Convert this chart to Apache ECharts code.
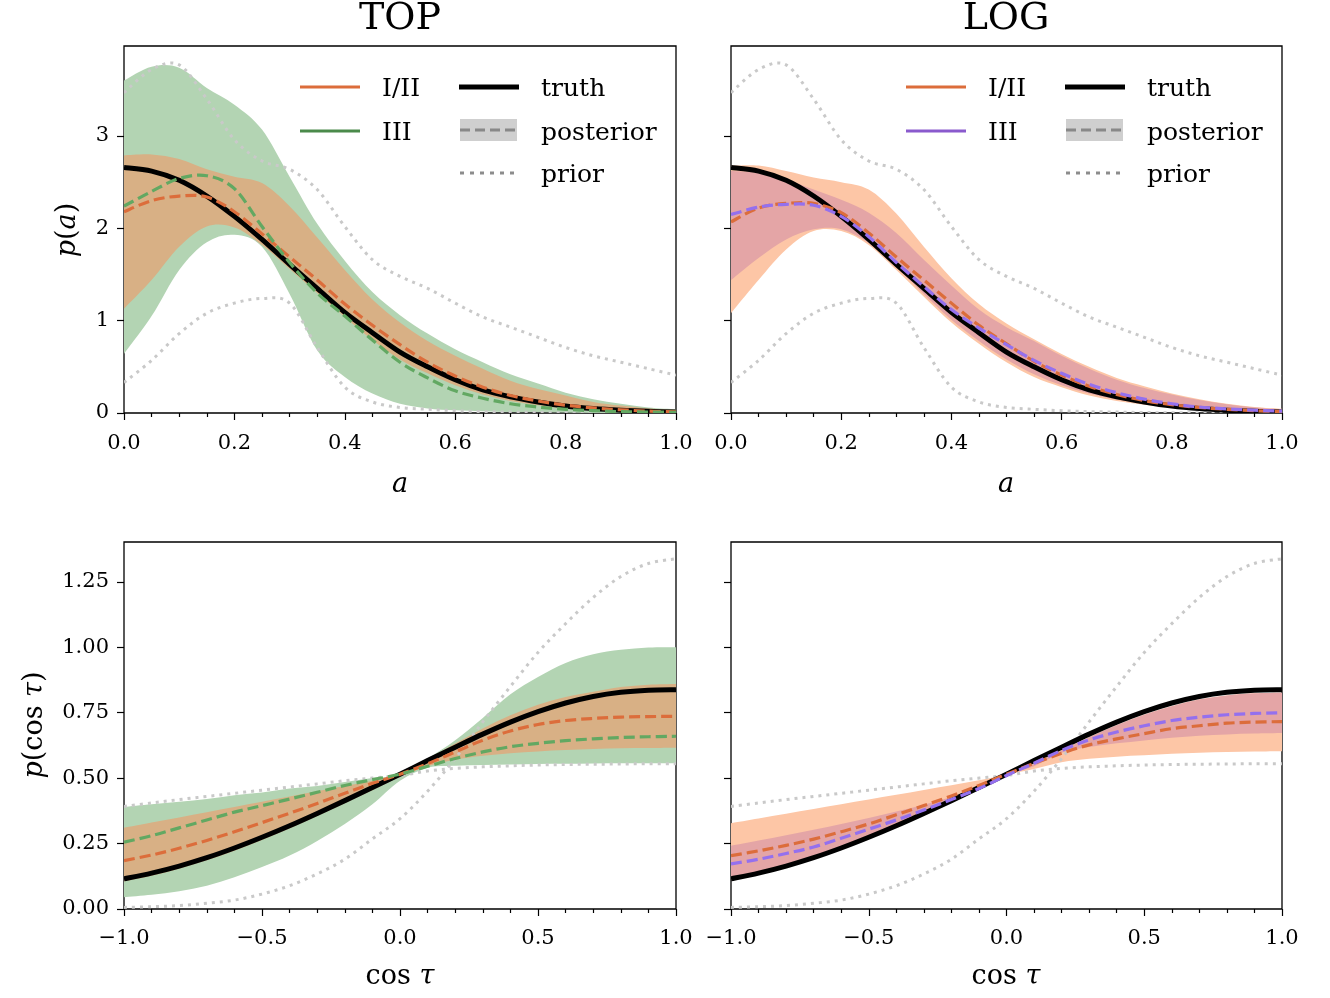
<!DOCTYPE html>
<html>
    <head>
        <meta charset="utf-8">
        <script src="https://cdn.jsdelivr.net/npm/echarts@6/dist/echarts.min.js"></script>
        <style>
            html, body { margin: 0; padding: 0; background: #fff; }
            #main { width: 1330px; height: 998px; }
        </style>
    </head>
    <body>
        <div id="main"></div>
        <script>
            // grid of spin magnitudes a (top row) and cos tau (bottom row)
            var xa = [0, 0.05, 0.1, 0.15, 0.2, 0.25, 0.3, 0.35, 0.4, 0.45, 0.5,
                      0.55, 0.6, 0.65, 0.7, 0.75, 0.8, 0.85, 0.9, 0.95, 1];
            var xc = [-1, -0.9, -0.8, -0.7, -0.6, -0.5, -0.4, -0.3, -0.2, -0.1, 0,
                      0.1, 0.2, 0.3, 0.4, 0.5, 0.6, 0.7, 0.8, 0.9, 1];

            // p(a): truth and prior band (shared by TOP and LOG)
            var truthA = [2.66, 2.62, 2.52, 2.35, 2.13, 1.88, 1.61, 1.35, 1.09, 0.87, 0.66,
                          0.50, 0.36, 0.25, 0.175, 0.12, 0.076, 0.048, 0.03, 0.018, 0.01];
            var priorAHi = [3.47, 3.72, 3.77, 3.40, 2.96, 2.73, 2.64, 2.42, 2.02, 1.66, 1.48,
                            1.35, 1.19, 1.04, 0.93, 0.82, 0.71, 0.62, 0.55, 0.48, 0.41];
            var priorALo = [0.33, 0.57, 0.86, 1.08, 1.19, 1.24, 1.19, 0.71, 0.28, 0.12, 0.06,
                            0.04, 0.025, 0.015, 0.01, 0.005, 0.003, 0.002, 0.001, 0.001, 0.001];

            // TOP, p(a)
            var topA12Med = [2.18, 2.30, 2.35, 2.34, 2.18, 1.94, 1.69, 1.44, 1.18, 0.95, 0.74,
                             0.55, 0.40, 0.28, 0.19, 0.13, 0.085, 0.055, 0.035, 0.02, 0.012];
            var topA12Hi = [2.79, 2.80, 2.75, 2.64, 2.56, 2.49, 2.24, 1.90, 1.55, 1.23, 0.98,
                            0.78, 0.62, 0.48, 0.35, 0.26, 0.19, 0.12, 0.08, 0.05, 0.036];
            var topA12Lo = [1.13, 1.44, 1.80, 2.02, 2.01, 1.82, 1.56, 1.30, 1.04, 0.79, 0.58,
                            0.43, 0.30, 0.20, 0.13, 0.085, 0.05, 0.03, 0.02, 0.01, 0.005];
            var topA3Med = [2.24, 2.40, 2.54, 2.57, 2.43, 2.02, 1.63, 1.30, 1.05, 0.79, 0.55,
                            0.38, 0.24, 0.16, 0.10, 0.065, 0.04, 0.025, 0.015, 0.01, 0.008];
            var topA3Hi = [3.60, 3.75, 3.74, 3.52, 3.34, 3.07, 2.56, 2.05, 1.65, 1.31, 1.06,
                           0.86, 0.69, 0.55, 0.42, 0.32, 0.22, 0.15, 0.10, 0.06, 0.04];
            var topA3Lo = [0.64, 1.05, 1.55, 1.85, 1.93, 1.80, 1.29, 0.68, 0.39, 0.21, 0.10,
                           0.05, 0.03, 0.02, 0.01, 0.01, 0.005, 0, 0, 0, 0];

            // LOG, p(a)
            var logA12Med = [2.07, 2.22, 2.27, 2.27, 2.17, 1.95, 1.69, 1.44, 1.19, 0.95, 0.75,
                             0.56, 0.41, 0.29, 0.20, 0.135, 0.09, 0.06, 0.04, 0.025, 0.015];
            var logA12Hi = [2.68, 2.68, 2.62, 2.55, 2.50, 2.42, 2.16, 1.80, 1.46, 1.18, 0.97,
                            0.80, 0.64, 0.50, 0.38, 0.29, 0.21, 0.15, 0.10, 0.065, 0.045];
            var logA12Lo = [1.08, 1.44, 1.77, 1.97, 1.97, 1.82, 1.55, 1.26, 0.98, 0.75, 0.55,
                            0.39, 0.28, 0.19, 0.13, 0.09, 0.06, 0.04, 0.025, 0.015, 0.01];
            var logA3Med = [2.15, 2.23, 2.26, 2.25, 2.13, 1.91, 1.63, 1.37, 1.12, 0.92, 0.74,
                            0.57, 0.43, 0.31, 0.22, 0.15, 0.10, 0.065, 0.045, 0.03, 0.02];
            var logA3Hi = [2.62, 2.60, 2.53, 2.42, 2.31, 2.17, 1.95, 1.66, 1.38, 1.12, 0.93,
                           0.78, 0.62, 0.48, 0.36, 0.27, 0.20, 0.14, 0.095, 0.06, 0.04];
            var logA3Lo = [1.44, 1.68, 1.88, 1.99, 1.99, 1.84, 1.58, 1.29, 1.01, 0.78, 0.58,
                           0.42, 0.30, 0.21, 0.145, 0.10, 0.07, 0.045, 0.03, 0.02, 0.012];

            // p(cos tau): truth and priors (shared)
            var truthC = [0.115, 0.137, 0.164, 0.196, 0.233, 0.274, 0.318, 0.365, 0.414, 0.464, 0.515,
                          0.567, 0.618, 0.668, 0.714, 0.754, 0.787, 0.812, 0.828, 0.836, 0.838];
            var priorCFlat = [0.392, 0.405, 0.418, 0.43, 0.442, 0.454, 0.466, 0.478, 0.49, 0.50, 0.51,
                              0.527, 0.537, 0.543, 0.547, 0.55, 0.552, 0.553, 0.554, 0.555, 0.555];
            var priorCSteep = [0.006, 0.009, 0.013, 0.022, 0.034, 0.057, 0.089, 0.134, 0.19, 0.268, 0.345,
                               0.45, 0.575, 0.715, 0.85, 0.98, 1.09, 1.19, 1.27, 1.32, 1.338];

            // TOP, p(cos tau)
            var topC12Med = [0.185, 0.206, 0.232, 0.262, 0.295, 0.33, 0.366, 0.403, 0.442, 0.48, 0.515,
                             0.555, 0.60, 0.645, 0.68, 0.705, 0.72, 0.728, 0.733, 0.735, 0.736];
            var topC12Hi = [0.31, 0.33, 0.35, 0.37, 0.39, 0.41, 0.43, 0.45, 0.47, 0.49, 0.515,
                            0.572, 0.632, 0.69, 0.74, 0.78, 0.81, 0.83, 0.848, 0.857, 0.86];
            var topC12Lo = [0.105, 0.127, 0.154, 0.186, 0.223, 0.264, 0.308, 0.355, 0.404, 0.454, 0.505,
                            0.545, 0.57, 0.585, 0.595, 0.602, 0.607, 0.611, 0.614, 0.615, 0.616];
            var topC3Med = [0.255, 0.28, 0.31, 0.34, 0.37, 0.395, 0.42, 0.446, 0.472, 0.494, 0.515,
                            0.545, 0.575, 0.60, 0.62, 0.633, 0.643, 0.65, 0.655, 0.658, 0.66];
            var topC3Hi = [0.39, 0.40, 0.41, 0.42, 0.435, 0.445, 0.46, 0.47, 0.485, 0.50, 0.515,
                           0.575, 0.645, 0.73, 0.82, 0.886, 0.94, 0.973, 0.99, 0.999, 1.0];
            var topC3Lo = [0.045, 0.054, 0.068, 0.089, 0.121, 0.16, 0.204, 0.26, 0.325, 0.40, 0.49,
                           0.54, 0.547, 0.55, 0.552, 0.554, 0.555, 0.556, 0.557, 0.557, 0.557];

            // LOG, p(cos tau)
            var logC12Med = [0.204, 0.222, 0.243, 0.267, 0.295, 0.325, 0.36, 0.395, 0.432, 0.472, 0.515,
                             0.556, 0.595, 0.627, 0.65, 0.67, 0.689, 0.70, 0.71, 0.714, 0.716];
            var logC12Hi = [0.328, 0.346, 0.364, 0.382, 0.40, 0.418, 0.436, 0.455, 0.473, 0.492, 0.515,
                            0.555, 0.606, 0.656, 0.702, 0.742, 0.775, 0.80, 0.816, 0.824, 0.826];
            var logC12Lo = [0.11, 0.132, 0.159, 0.191, 0.228, 0.269, 0.313, 0.36, 0.409, 0.459, 0.51,
                            0.535, 0.561, 0.574, 0.582, 0.587, 0.593, 0.597, 0.60, 0.602, 0.603];
            var logC3Med = [0.172, 0.19, 0.212, 0.237, 0.27, 0.305, 0.34, 0.378, 0.418, 0.46, 0.51,
                            0.557, 0.606, 0.646, 0.676, 0.70, 0.72, 0.733, 0.742, 0.747, 0.75];
            var logC3Hi = [0.242, 0.262, 0.282, 0.303, 0.325, 0.348, 0.372, 0.398, 0.428, 0.462, 0.512,
                           0.555, 0.606, 0.656, 0.702, 0.742, 0.775, 0.80, 0.816, 0.824, 0.826];
            var logC3Lo = [0.12, 0.142, 0.169, 0.201, 0.238, 0.279, 0.323, 0.37, 0.419, 0.469, 0.512,
                           0.545, 0.597, 0.619, 0.633, 0.644, 0.654, 0.662, 0.667, 0.67, 0.672];

            var aTicks = [0, 1, 2, 3];
            var cTicks = [0, 0.25, 0.5, 0.75, 1, 1.25];

            var ORANGE = '#dc6d3b', GREEN = '#4a8a4a', PURPLE = '#8a5acd';
            var FONT = '"DejaVu Serif", serif';

            function pts(xs, ys) {
                return xs.map(function (x, i) { return [x, ys[i]]; });
            }

            // cubic spline through pixel points (Catmull-Rom as bezier)
            function curve(p, first) {
                var d = (first ? 'M' : 'L') + p[0][0] + ',' + p[0][1];
                for (var i = 0; i < p.length - 1; i++) {
                    var p0 = p[Math.max(i - 1, 0)], p1 = p[i], p2 = p[i + 1], p3 = p[Math.min(i + 2, p.length - 1)];
                    var c1x = p1[0] + (p2[0] - p0[0]) / 6, c1y = p1[1] + (p2[1] - p0[1]) / 6;
                    var c2x = p2[0] - (p3[0] - p1[0]) / 6, c2y = p2[1] - (p3[1] - p1[1]) / 6;
                    d += 'C' + c1x + ',' + c1y + ',' + c2x + ',' + c2y + ',' + p2[0] + ',' + p2[1];
                }
                return d;
            }

            // shaded credible band between lo and hi
            function band(g, xs, lo, hi, color) {
                return {
                    type: 'custom', xAxisIndex: g, yAxisIndex: g, silent: true, clip: true,
                    data: xs.map(function (x, i) { return [x, lo[i], hi[i]]; }),
                    encode: { x: 0, y: [1, 2] },
                    renderItem: function (params, api) {
                        if (params.dataIndex !== 0) return null;
                        var up = xs.map(function (x, i) { return api.coord([x, hi[i]]); });
                        var dn = xs.map(function (x, i) { return api.coord([x, lo[i]]); }).reverse();
                        return {
                            type: 'path',
                            shape: { pathData: curve(up, true) + curve(dn, false) + 'Z' },
                            style: { fill: color, stroke: null }
                        };
                    }
                };
            }

            // smooth curve through the points, drawn as one path
            function line(g, xs, ys, color, width, dash) {
                return {
                    type: 'custom', xAxisIndex: g, yAxisIndex: g, silent: true, clip: true,
                    data: pts(xs, ys),
                    encode: { x: 0, y: 1 },
                    renderItem: function (params, api) {
                        if (params.dataIndex !== 0) return null;
                        var p = xs.map(function (x, i) { return api.coord([x, ys[i]]); });
                        return {
                            type: 'path',
                            shape: { pathData: curve(p, true) },
                            style: { fill: 'none', stroke: color, lineWidth: width, lineDash: dash || null, lineCap: 'butt', lineJoin: 'round' }
                        };
                    }
                };
            }

            var series = [
                band(0, xa, topA3Lo, topA3Hi, '#b3d4b3'),
                band(0, xa, topA12Lo, topA12Hi, '#d8b085'),
                band(1, xa, logA12Lo, logA12Hi, '#fdc6a6'),
                band(1, xa, logA3Lo, logA3Hi, '#e4a5a6'),
                band(2, xc, topC3Lo, topC3Hi, '#b3d4b3'),
                band(2, xc, topC12Lo, topC12Hi, '#d8b085'),
                band(3, xc, logC12Lo, logC12Hi, '#fdc6a6'),
                band(3, xc, logC3Lo, logC3Hi, '#e4a5a6')
            ];

            var PRIOR = '#c9c9c9';
            [0, 1].forEach(function (g) {
                series.push(line(g, xa, priorAHi, PRIOR, 3, [3, 5]));
                series.push(line(g, xa, priorALo, PRIOR, 3, [3, 5]));
                series.push(line(g, xa, truthA, '#000', 5));
            });
            [2, 3].forEach(function (g) {
                series.push(line(g, xc, priorCFlat, PRIOR, 3, [3, 5]));
                series.push(line(g, xc, priorCSteep, PRIOR, 3, [3, 5]));
                series.push(line(g, xc, truthC, '#000', 5));
            });
            series.push(line(0, xa, topA12Med, ORANGE, 3.2, [11, 5]));
            series.push(line(0, xa, topA3Med, '#62a862', 3.2, [11, 5]));
            series.push(line(1, xa, logA12Med, ORANGE, 3.2, [11, 5]));
            series.push(line(1, xa, logA3Med, '#9470ee', 3.2, [11, 5]));
            series.push(line(2, xc, topC12Med, ORANGE, 3.2, [11, 5]));
            series.push(line(2, xc, topC3Med, '#62a862', 3.2, [11, 5]));
            series.push(line(3, xc, logC12Med, ORANGE, 3.2, [11, 5]));
            series.push(line(3, xc, logC3Med, '#9470ee', 3.2, [11, 5]));

            var tickStyle = { color: '#000', width: 1.2 };

            function xAxis(g, isA) {
                return {
                    type: 'value', gridIndex: g,
                    min: isA ? 0 : -1, max: 1, interval: isA ? 0.2 : 0.5,
                    axisLine: { show: false, onZero: false },
                    splitLine: { show: false },
                    axisTick: { show: true, length: 7, lineStyle: tickStyle },
                    minorTick: { show: true, splitNumber: isA ? 4 : 5, length: 4, lineStyle: tickStyle },
                    axisLabel: {
                        margin: isA ? 20 : 19, color: '#000', fontFamily: FONT, fontSize: 21,
                        formatter: function (v) { return v.toFixed(1).replace('-', '\u2212'); }
                    }
                };
            }

            function yAxis(g, isA, labels) {
                var vals = isA ? aTicks : cTicks;
                return {
                    type: 'value', gridIndex: g,
                    min: 0, max: isA ? 3.975 : 1.402,
                    interval: isA ? 1 : 0.25,
                    axisLine: { show: false, onZero: false },
                    splitLine: { show: false },
                    axisTick: { show: true, length: 7, lineStyle: tickStyle, customValues: vals },
                    axisLabel: {
                        show: labels, margin: 15, color: '#000', fontFamily: FONT, fontSize: 21,
                        customValues: vals,
                        formatter: function (v) { return isA ? String(v) : v.toFixed(2); }
                    }
                };
            }

            var frame = { show: true, borderColor: '#000', borderWidth: 1.3, backgroundColor: 'transparent' };

            function legend(ox, c3) {
                var items = [
                    { type: 'line', shape: { x1: ox + 300, y1: 87, x2: ox + 360, y2: 87 }, style: { stroke: ORANGE, lineWidth: 3 } },
                    { type: 'line', shape: { x1: ox + 300, y1: 131, x2: ox + 360, y2: 131 }, style: { stroke: c3, lineWidth: 3 } },
                    { type: 'line', shape: { x1: ox + 459, y1: 87, x2: ox + 519, y2: 87 }, style: { stroke: '#000', lineWidth: 5 } },
                    { type: 'rect', shape: { x: ox + 460, y: 119, width: 57, height: 22 }, style: { fill: '#cfcfcf' } },
                    { type: 'line', shape: { x1: ox + 460, y1: 130, x2: ox + 517, y2: 130 }, style: { stroke: '#888', lineWidth: 3, lineDash: [10, 5] } },
                    { type: 'line', shape: { x1: ox + 460, y1: 173, x2: ox + 517, y2: 173 }, style: { stroke: '#8c8c8c', lineWidth: 3, lineDash: [4, 6] } }
                ];
                var texts = [['I/II', 382, 89], ['III', 382, 133], ['truth', 541, 89], ['posterior', 541, 133], ['prior', 541, 175]];
                texts.forEach(function (t) {
                    items.push({
                        type: 'text', x: ox + t[1], y: t[2],
                        style: { text: t[0], font: '25px ' + FONT, fill: '#000', textAlign: 'left', textVerticalAlign: 'middle' }
                    });
                });
                return items;
            }

            function label(x, y, text, rot) {
                return {
                    type: 'text', x: x, y: y, rotation: rot || 0,
                    style: {
                        text: text, font: '27px ' + FONT, fill: '#000',
                        textAlign: 'center', textVerticalAlign: 'middle',
                        rich: { i: { fontStyle: 'italic', fontFamily: FONT, fontSize: 27 } }
                    }
                };
            }

            var graphics = [
                { type: 'text', x: 400, y: 19, style: { text: 'TOP', font: '38px ' + FONT, fill: '#000', textAlign: 'center', textVerticalAlign: 'middle' } },
                { type: 'text', x: 1006, y: 19, style: { text: 'LOG', font: '38px ' + FONT, fill: '#000', textAlign: 'center', textVerticalAlign: 'middle' } },
                label(400, 485, '{i|a}'),
                label(1006, 485, '{i|a}'),
                label(400, 977, 'cos {i|\u03c4}'),
                label(1006, 977, 'cos {i|\u03c4}'),
                label(68, 230, '{i|p}({i|a})', Math.PI / 2),
                label(35, 725, '{i|p}(cos {i|\u03c4})', Math.PI / 2)
            ].concat(legend(0, GREEN)).concat(legend(606, PURPLE));

            var chart = echarts.init(document.getElementById('main'), null, { renderer: 'canvas' });
            chart.setOption({
                animation: false,
                backgroundColor: '#fff',
                grid: [
                    Object.assign({ left: 124, top: 46, width: 552, height: 367 }, frame),
                    Object.assign({ left: 731, top: 46, width: 551, height: 367 }, frame),
                    Object.assign({ left: 124, top: 542, width: 552, height: 367 }, frame),
                    Object.assign({ left: 731, top: 542, width: 551, height: 367 }, frame)
                ],
                xAxis: [xAxis(0, true), xAxis(1, true), xAxis(2, false), xAxis(3, false)],
                yAxis: [yAxis(0, true, true), yAxis(1, true, false), yAxis(2, false, true), yAxis(3, false, false)],
                series: series,
                graphic: graphics
            });
        </script>
    </body>
</html>
